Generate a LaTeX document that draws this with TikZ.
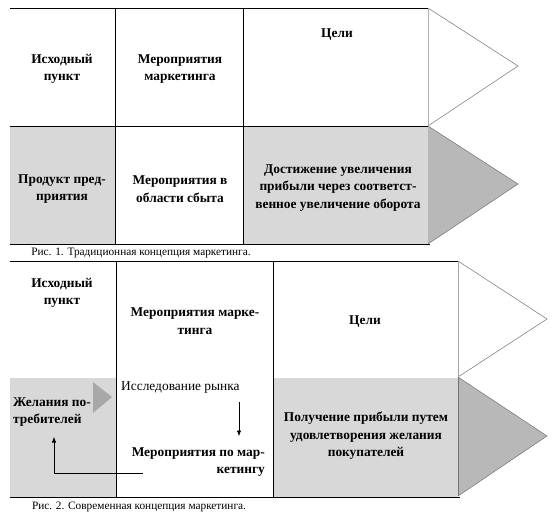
\documentclass[tikz,border=0pt]{standalone}
\usepackage{fontspec}
\setmainfont{Liberation Serif}
\usetikzlibrary{arrows.meta}
\definecolor{cellgray}{HTML}{D8D8D8}
\definecolor{tipgray}{HTML}{B8B8B8}
\definecolor{smallgray}{HTML}{A8A8A8}
\tikzset{
  frame/.style={line width=0.9pt, black},
  thinedge/.style={line width=0.5pt, black!55},
  lbl/.style={font=\bfseries\fontsize{13.4}{17.5}\selectfont, align=center, inner sep=0pt},
  plain/.style={font=\fontsize{13.4}{17.5}\selectfont, inner sep=0pt},
  captext/.style={font=\fontsize{11.3}{13}\selectfont, inner sep=0pt},
  conn/.style={line width=0.6pt, -{Latex[length=5.5pt,width=4.5pt]}}
}
\begin{document}
\begin{tikzpicture}[x=1pt,y=-1pt]
\useasboundingbox[fill=white] (0,0) rectangle (559,517);
% ---------- Figure 1 ----------
\fill[cellgray] (10,126) rectangle (115,244);
\fill[cellgray] (243,126) rectangle (428,244);
\draw[thinedge] (428,8) -- (518,66) -- (428,126);
\draw[thinedge, fill=tipgray] (428,126) -- (518,184) -- (428,244);
\draw[line width=0.5pt, black!30] (428,8) -- (428,126);
\draw[frame] (10,8) -- (428,8);
\draw[frame] (10,126) -- (428,126);
\draw[frame] (10,244) -- (430,244);
\draw[frame] (115,8) -- (115,244);
\draw[frame] (243,8) -- (243,244);
\node[lbl] (a1) at (62,69) {Исходный\\пункт};
\node[lbl] (b1) at (180,69) {Мероприятия\\маркетинга};
\node[lbl] (c1) at (337,35) {Цели};
\node[lbl] (d1) at (62,189) {Продукт пред-\\приятия};
\node[lbl] (e1) at (180,189) {Мероприятия в\\области сбыта};
\node[lbl] (f1) at (338,188) {Достижение увеличения\\прибыли через соответст-\\венное увеличение оборота};
\node[captext] (cap1) at (141,253) {Рис. 1. Традиционная концепция маркетинга.};
% ---------- Figure 2 ----------
\fill[cellgray] (10,378) rectangle (116,497);
\fill[cellgray] (273,378) rectangle (458,497);
\draw[thinedge] (458,261) -- (547,319) -- (458,377);
\draw[thinedge, fill=tipgray] (458,377) -- (547,436) -- (458,496);
\draw[line width=0.6pt, black!35] (458,261) -- (458,377);
\draw[line width=0.6pt, black!55] (458,377) -- (458,496);
\draw[frame] (10,261) -- (458,261);
\draw[frame] (10,497) -- (460,497);
\draw[frame] (116,261) -- (116,497);
\draw[frame] (273,261) -- (273,497);
\fill[smallgray] (93,382) -- (112,397) -- (93,413) -- cycle;
\node[lbl] (a2) at (62,293) {Исходный\\пункт};
\node[lbl] (b2) at (195,321) {Мероприятия марке-\\тинга};
\node[lbl] (c2) at (365,322) {Цели};
\node[lbl, align=left, anchor=west] (d2) at (13,412) {Желания по-\\требителей};
\node[plain, anchor=west] (r2) at (121,388) {Исследование рынка};
\node[lbl, align=right, anchor=east] (m2) at (265,462) {Мероприятия по мар-\\кетингу};
\node[lbl] (f2) at (366,436) {Получение прибыли путем\\удовлетворения желания\\покупателей};
\node[captext] (cap2) at (139,507) {Рис. 2. Современная концепция маркетинга.};
\coordinate (r2s) at (239,402);
\coordinate (m2t) at (239,436);
\draw[conn] (r2s) -- (m2t);
\coordinate (m2s) at (143,473);
\coordinate (d2t) at (54,437);
\draw[conn] (m2s) -| (d2t);
\end{tikzpicture}
\end{document}
